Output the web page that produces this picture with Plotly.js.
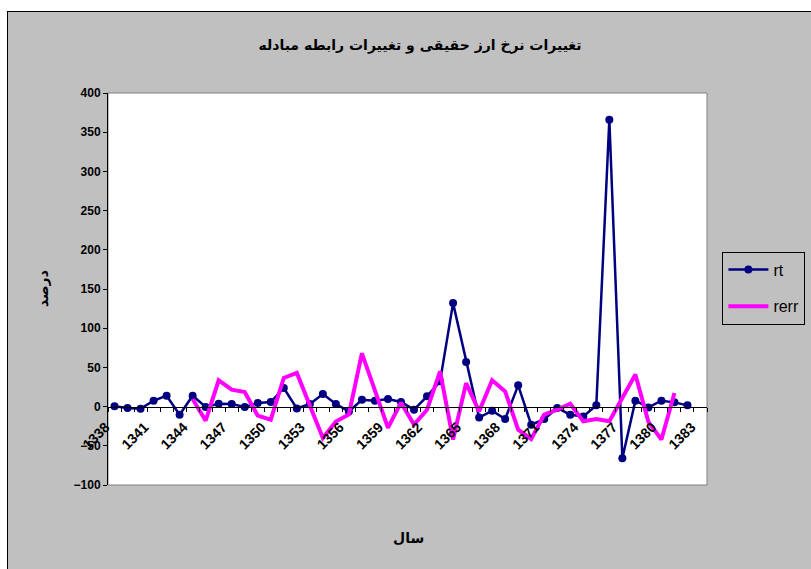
<!DOCTYPE html>
<html>
<head>
<meta charset="utf-8">
<script src="https://cdn.plot.ly/plotly-3.0.1.min.js"></script>
<style>
html,body{margin:0;padding:0;background:#ffffff;width:811px;height:569px;overflow:hidden;}
#frame{position:absolute;left:7px;top:11px;width:820px;height:580px;background:#C0C0C0;border-left:1.5px solid #000;border-top:1.5px solid #000;}
#chart{position:absolute;left:0;top:0;width:811px;height:569px;}
</style>
</head>
<body>
<div id="frame"></div>
<div id="chart"></div>
<script>
const years = ['1338','1339','1340','1341','1342','1343','1344','1345','1346','1347',
  '1348','1349','1350','1351','1352','1353','1354','1355','1356','1357',
  '1358','1359','1360','1361','1362','1363','1364','1365','1366','1367',
  '1368','1369','1370','1371','1372','1373','1374','1375','1376','1377',
  '1378','1379','1380','1381','1382','1383'];

const rt = [0.3, -1.8, -2.7, 7.5, 13.9, -10.3, 13.9, -0.5, 3.7, 3.3,
  -0.5, 4.6, 5.8, 23.7, -2.3, 3.3, 16, 3.3, -6.1, 8.8,
  7.5, 9.6, 5.8, -3.9, 13.1, 32.2, 132, 57, -14, -5.2,
  -15.9, 27.1, -23.1, -15.9, -1.8, -10.3, -12.5, 1.6, 366, -66,
  7.5, -1, 7.5, 5.4, 1.6, null];

const rerr = [null, null, null, null, null, null, 9.7, -18, 33.5, 21.6,
  18.6, -11.6, -16.7, 36.5, 43, 1, -40, -19, -10, 68,
  19, -27, 5, -23, -4, 45, -42, 30, -6, 33.5,
  19.4, -29.5, -41.4, -10.3, -4, 3.7, -18.8, -15.9, -18.8, 11,
  41, -19.5, -42, 17.3, null, null];

const tickLabels = ['1338','','','1341','','','1344','','','1347',
  '','','1350','','','1353','','','1356','','',
  '1359','','','1362','','','1365','','','1368',
  '','','1371','','','1374','','','1377','','',
  '1380','','','1383'];

const titleText = 'تغییرات نرخ ارز حقیقی و تغییرات رابطه مبادله';
const xTitle = 'سال';
const yTitle = 'درصد';

const boldFont = {family: 'Liberation Sans, Arial, sans-serif', size: 12, color: '#000', weight: 'bold'};
const xTickFont = {family: 'Liberation Sans, Arial, sans-serif', size: 14, color: '#000', weight: 'bold'};
const arabicFont = {family: 'DejaVu Sans, Noto Sans, sans-serif', size: 14, color: '#000', weight: 'bold'};

const traces = [
  {x: years, y: rt, name: 'rt', type: 'scatter', mode: 'lines+markers',
   line: {color: '#000080', width: 2.5}, marker: {color: '#000080', size: 8},
   legendgroup: 'a', connectgaps: false},
  {x: years, y: rerr, name: 'rerr', type: 'scatter', mode: 'lines',
   line: {color: '#FF00FF', width: 4}, legendgroup: 'b', connectgaps: false}
];

const layout = {
  width: 811, height: 569,
  paper_bgcolor: 'rgba(0,0,0,0)',
  plot_bgcolor: '#ffffff',
  margin: {l: 108, r: 104, t: 93, b: 84, autoexpand: false},
  title: {text: titleText, font: arabicFont, xref: 'container', yref: 'container',
          x: 420/811, y: 1 - 45/569, xanchor: 'center', yanchor: 'middle'},
  showlegend: true,
  legend: {x: 1.0257, xanchor: 'left', y: 0.5956, yanchor: 'top',
           bgcolor: 'rgba(0,0,0,0)', bordercolor: '#000', borderwidth: 1,
           font: {family: 'Liberation Sans, Arial, sans-serif', size: 16, color: '#000'},
           tracegroupgap: 13, itemwidth: 40},
  xaxis: {type: 'category', anchor: 'free', position: 0.2,
          range: [-0.5, 45.5], tickmode: 'array', tickvals: years, ticktext: tickLabels,
          tickson: 'boundaries', ticks: 'outside', ticklen: 4, tickcolor: '#000', tickwidth: 1,
          showline: true, linecolor: '#000', linewidth: 1, showgrid: false, zeroline: false,
          tickangle: -45, tickfont: xTickFont, ticklabelshift: -9, ticklabelstandoff: 6,
          fixedrange: true},
  yaxis: {range: [-100, 400], tick0: 0, dtick: 50, ticks: 'outside', ticklen: 4,
          tickcolor: '#000', showline: true, linecolor: '#000', linewidth: 1,
          showgrid: false, zeroline: false, tickfont: boldFont, fixedrange: true},
  shapes: [{type: 'rect', xref: 'paper', yref: 'paper', x0: 0, x1: 1, y0: 0, y1: 1,
            line: {color: '#808080', width: 1}, layer: 'below'}],
  annotations: [
    {text: xTitle, xref: 'paper', yref: 'paper', x: (408-108)/599, y: (485-538)/392,
     showarrow: false, font: arabicFont, xanchor: 'center', yanchor: 'middle'},
    {text: yTitle, xref: 'paper', yref: 'paper', x: (43-108)/599, y: 0.5, textangle: -90,
     showarrow: false, font: arabicFont, xanchor: 'center', yanchor: 'middle'}
  ]
};

Plotly.newPlot('chart', traces, layout, {displayModeBar: false, staticPlot: true});
</script>
</body>
</html>
